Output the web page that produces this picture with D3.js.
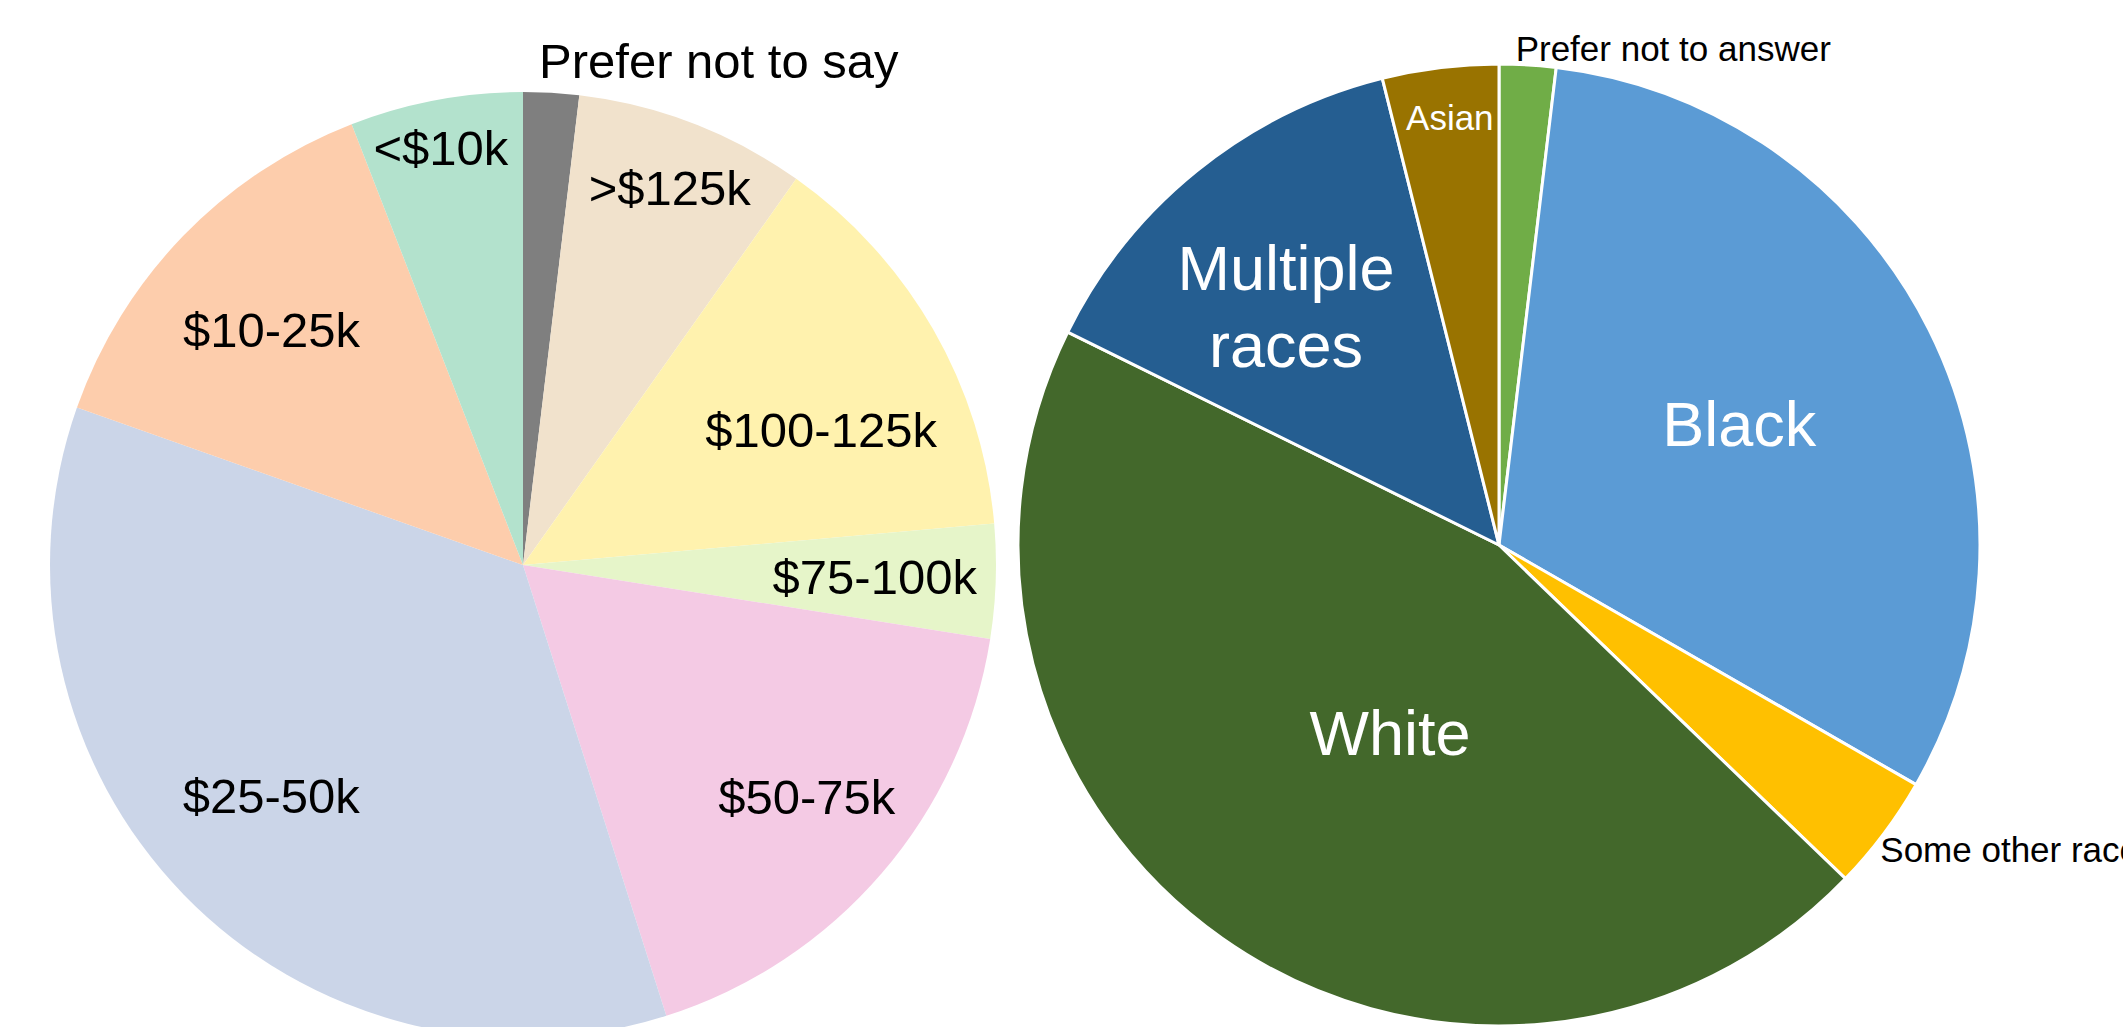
<!DOCTYPE html>
<html>
<head>
<meta charset="utf-8">
<script src="https://cdn.jsdelivr.net/npm/d3@7"></script>
<style>
  html, body { margin: 0; padding: 0; background: #fff; overflow: hidden; }
  svg { display: block; font-family: "Liberation Sans", Arial, Helvetica, sans-serif; }
</style>
</head>
<body>
<svg id="chart" width="2123" height="1027"></svg>
<script>
// ---- Data (percent of respondents) ----
const incomeCategories = ["Prefer not to say", ">$125k", "$100-125k", "$75-100k", "$50-75k", "$25-50k", "$10-25k", "<$10k"];
const incomeValues     = [1.9, 7.9, 13.8, 3.9, 17.6, 35.3, 13.7, 5.9];

const raceCategories = ["Prefer not to answer", "Black", "Some other race", "White", "Multiple races", "Asian"];
const raceValues     = [1.9, 31.4, 3.9, 45.1, 13.8, 3.9];

// ---- Styles ----
const incomeColors = ["#7f7f7f", "#f1e2cc", "#fff2ae", "#e6f5c9", "#f4cae4", "#cbd5e8", "#fdcdac", "#b3e2cd"];
const raceColors   = ["#70ad47", "#5b9bd5", "#ffc000", "#43682b", "#255e91", "#997300"];

// label layout: [angle offset from slice mid (deg), radius factor, anchor, fontSize, color]
const incomeLabelLayout = [
  [-1.6, 1.067, "start", 49, "#000"],
  [0.2, 0.856, "middle", 49, "#000"],
  [5.5, 0.692, "middle", 49, "#000"],
  [-0.15, 0.744, "middle", 49, "#000"],
  [-1.5, 0.774, "middle", 49, "#000"],
  [1.6, 0.722, "middle", 49, "#000"],
  [-1.0, 0.728, "middle", 49, "#000"],
  [-0.5, 0.9, "middle", 49, "#000"]
];
const raceLabelLayout = [
  [-1.5, 1.033, "start", 35, "#000"],
  [-0.2, 0.56, "middle", 63, "#fff"],
  [1.75, 1.015, "start", 35, "#000"],
  [-4.9, 0.45, "middle", 63, "#fff"],
  [-2.85, 0.665, "middle", 63, "#fff"],
  [0.45, 0.894, "middle", 35, "#fff"]
];

const svg = d3.select("#chart");

function drawPie(cats, vals, colors, layout, cx, cy, r, strokeW) {
  const g = svg.append("g").attr("transform", `translate(${cx},${cy})`);
  const pie = d3.pie().sort(null).value(d => d.v);
  const arcs = pie(cats.map((c, i) => ({ c, v: vals[i], i })));
  const arc = d3.arc().innerRadius(0).outerRadius(r);
  g.selectAll("path.slice").data(arcs).join("path")
    .attr("class", "slice")
    .attr("d", arc)
    .attr("fill", d => colors[d.data.i])
    .attr("stroke", strokeW > 0 ? "#fff" : "none")
    .attr("stroke-width", strokeW)
    .attr("stroke-linejoin", "round");

  arcs.forEach(d => {
    const L = layout[d.data.i];
    const mid = (d.startAngle + d.endAngle) / 2 + L[0] * Math.PI / 180;
    const rr = L[1] * r;
    const x = rr * Math.sin(mid), y = -rr * Math.cos(mid);
    const lines = d.data.c === "Multiple races" ? ["Multiple", "races"] : [d.data.c];
    const t = g.append("text")
      .attr("x", x).attr("y", y)
      .attr("text-anchor", L[2])
      .attr("font-size", L[3])
      .attr("fill", L[4]);
    const lh = 1.22 * L[3];
    lines.forEach((s, k) => {
      t.append("tspan")
        .attr("x", x)
        .attr("dy", k === 0 ? (0.358 * L[3] - (lines.length - 1) * lh / 2) : lh)
        .text(s);
    });
  });
}

drawPie(incomeCategories, incomeValues, incomeColors, incomeLabelLayout, 523, 565, 473, 0);
drawPie(raceCategories, raceValues, raceColors, raceLabelLayout, 1499, 545, 481, 3);
</script>
</body>
</html>
